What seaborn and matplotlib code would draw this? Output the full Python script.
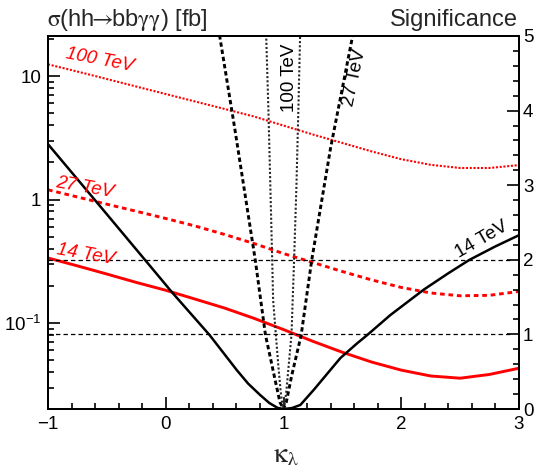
import numpy as np
import seaborn as sns
import matplotlib.pyplot as plt
from matplotlib.ticker import MultipleLocator, LogLocator, NullFormatter

# cross sections (left axis, fb)
kappa_xs = [-1, -0.75, -0.5, -0.25, 0, 0.25, 0.5, 0.75, 1.0, 1.25, 1.5, 1.75, 2.0, 2.25, 2.5, 2.75, 3.0]
xsec_14 = [0.336, 0.290, 0.249, 0.213, 0.184, 0.156, 0.132, 0.109, 0.0884, 0.0710, 0.0579, 0.0482,
           0.0415, 0.0372, 0.0357, 0.0383, 0.0430]
xsec_27 = [1.198, 1.048, 0.916, 0.803, 0.702, 0.610, 0.521, 0.440, 0.365, 0.309, 0.261, 0.223,
           0.194, 0.175, 0.166, 0.1675, 0.180]
xsec_100 = [12.44, 10.87, 9.46, 8.22, 7.15, 6.22, 5.41, 4.70, 3.97, 3.36, 2.87, 2.45,
            2.12, 1.91, 1.80, 1.80, 1.90]

# significance (right axis)
kappa_sig14 = [-1, -0.5, -0.034, 0.05, 0.373, 0.604, 0.70, 0.80, 0.88, 0.95, 1.0, 1.07, 1.143,
               1.256, 1.398, 1.483, 1.625, 1.71, 1.908, 2.191, 2.40, 2.58, 2.80, 3.0]
sig_14 = [3.55, 2.61, 1.73, 1.57, 0.99, 0.52, 0.34, 0.19, 0.08, 0.015, 0.0, 0.012, 0.054,
          0.255, 0.523, 0.683, 0.88, 0.99, 1.26, 1.60, 1.82, 2.0, 2.18, 2.33]
kappa_sig27 = [0.427, 0.458, 0.585, 0.76, 0.847, 0.88, 0.93, 0.97, 1.0, 1.025, 1.07, 1.150,
               1.24, 1.40, 1.587, 1.622]
sig_27 = [5.3, 5.0, 3.77, 2.0, 0.99, 0.75, 0.38, 0.09, 0.0, 0.1, 0.45, 0.99,
          2.0, 3.5, 5.0, 5.3]
kappa_sig100 = [0.848, 0.853, 0.872, 0.888, 0.904, 0.912, 0.935, 0.955, 0.975, 0.99, 1.0, 1.01,
                1.025, 1.045, 1.068, 1.078, 1.09, 1.11, 1.126, 1.141, 1.146]
sig_100 = [5.3, 5.0, 4.0, 3.0, 2.0, 1.46, 1.0, 0.6, 0.25, 0.06, 0.0, 0.06,
           0.25, 0.6, 1.0, 1.46, 2.0, 3.0, 4.0, 5.0, 5.3]
sig_lines = [1, 2]

sns.set_theme(style='ticks')
plt.rcParams['font.family'] = ['Liberation Sans', 'DejaVu Sans']
plt.rcParams['mathtext.fontset'] = 'stix'
plt.rcParams['axes.linewidth'] = 1.4

W, H = 535, 468
fig = plt.figure(figsize=(W / 100, H / 100), dpi=100)
ax = fig.add_axes([48 / W, 1 - 409 / H, 471 / W, 373 / H])
ax.set_yscale('log')
ax2 = ax.twinx()

# red cross-section curves
sns.lineplot(x=kappa_xs, y=xsec_14, ax=ax, color='red', lw=2.1, sort=False)
sns.lineplot(x=kappa_xs, y=xsec_27, ax=ax, color='red', lw=2.1, ls=(0, (1.6, 1.3)), sort=False)
sns.lineplot(x=kappa_xs, y=xsec_100, ax=ax, color='red', lw=1.5, ls=(0, (1, 0.8)), sort=False)

# black significance curves
sns.lineplot(x=kappa_sig14, y=sig_14, ax=ax2, color='black', lw=1.8, sort=False)
sns.lineplot(x=kappa_sig27, y=sig_27, ax=ax2, color='black', lw=2.1, ls=(0, (1.5, 1)), sort=False)
sns.lineplot(x=kappa_sig100, y=sig_100, ax=ax2, color='0.15', lw=1.5, ls=(0, (1, 1)), sort=False)
ax2.hlines(sig_lines, -1, 2.92, color='black', lw=0.9, ls=(0, (3.5, 2.5)))

ax.set_xlim(-1, 3)
ax.set_ylim(0.0201, 21.1)
ax2.set_ylim(0, 5)

ax.xaxis.set_major_locator(MultipleLocator(1))
ax.xaxis.set_minor_locator(MultipleLocator(0.2))
ax.set_yticks([0.1, 1, 10])
ax.set_yticklabels(['$\\mathdefault{10^{-1}}$', '1', '10'])
ax.yaxis.set_minor_locator(LogLocator(base=10, subs=np.arange(2, 10)))
ax.yaxis.set_minor_formatter(NullFormatter())
ax2.set_yticks(range(6))
ax2.yaxis.set_minor_locator(MultipleLocator(0.2))

for a in (ax, ax2):
    a.tick_params(which='both', direction='in', width=1.2, colors='black', top=False)
    a.tick_params(which='major', length=8.5, labelsize=13.5, pad=5)
    a.tick_params(which='minor', length=4.5)
    a.set_xlabel('')
    a.set_ylabel('')
ax.tick_params(axis='y', which='both', right=False)
ax2.tick_params(axis='y', which='both', left=False, right=True)
ax2.tick_params(axis='y', which='major', pad=2.8)
for s in ax2.spines.values():
    s.set_linewidth(1.4)
    s.set_color('black')
for s in ax.spines.values():
    s.set_color('black')

def px(x, y):
    return x / W, 1 - y / H

fig.text(*px(47, 26), '$\\mathrm{\\sigma}$(hh$\\!\\!\\rightarrow\\!\\!$bb$\\mathrm{\\gamma\\gamma}$) [fb]',
         fontsize=17, ha='left', va='baseline')
fig.text(*px(518, 26), 'Significance', fontsize=17, ha='right', va='baseline')
fig.text(*px(286, 455), '$\\mathrm{\\kappa_{\\lambda}}$', fontsize=20, ha='center', va='center')

lab = dict(fontsize=13.5, ha='center', va='center', rotation_mode='anchor')
fig.text(*px(100, 60), '100 TeV', color='red', style='italic', rotation=-11, **lab)
fig.text(*px(85, 188), '27 TeV', color='red', style='italic', rotation=-10, **lab)
fig.text(*px(86, 255), '14 TeV', color='red', style='italic', rotation=-10, **lab)
fig.text(*px(482, 240), '14 TeV', color='black', rotation=30, **lab)
fig.text(*px(290, 78), '100 TeV', color='black', rotation=90, **lab)
fig.text(*px(355, 78), '27 TeV', color='black', rotation=78, **lab)

fig.savefig('out.png', dpi=100)
